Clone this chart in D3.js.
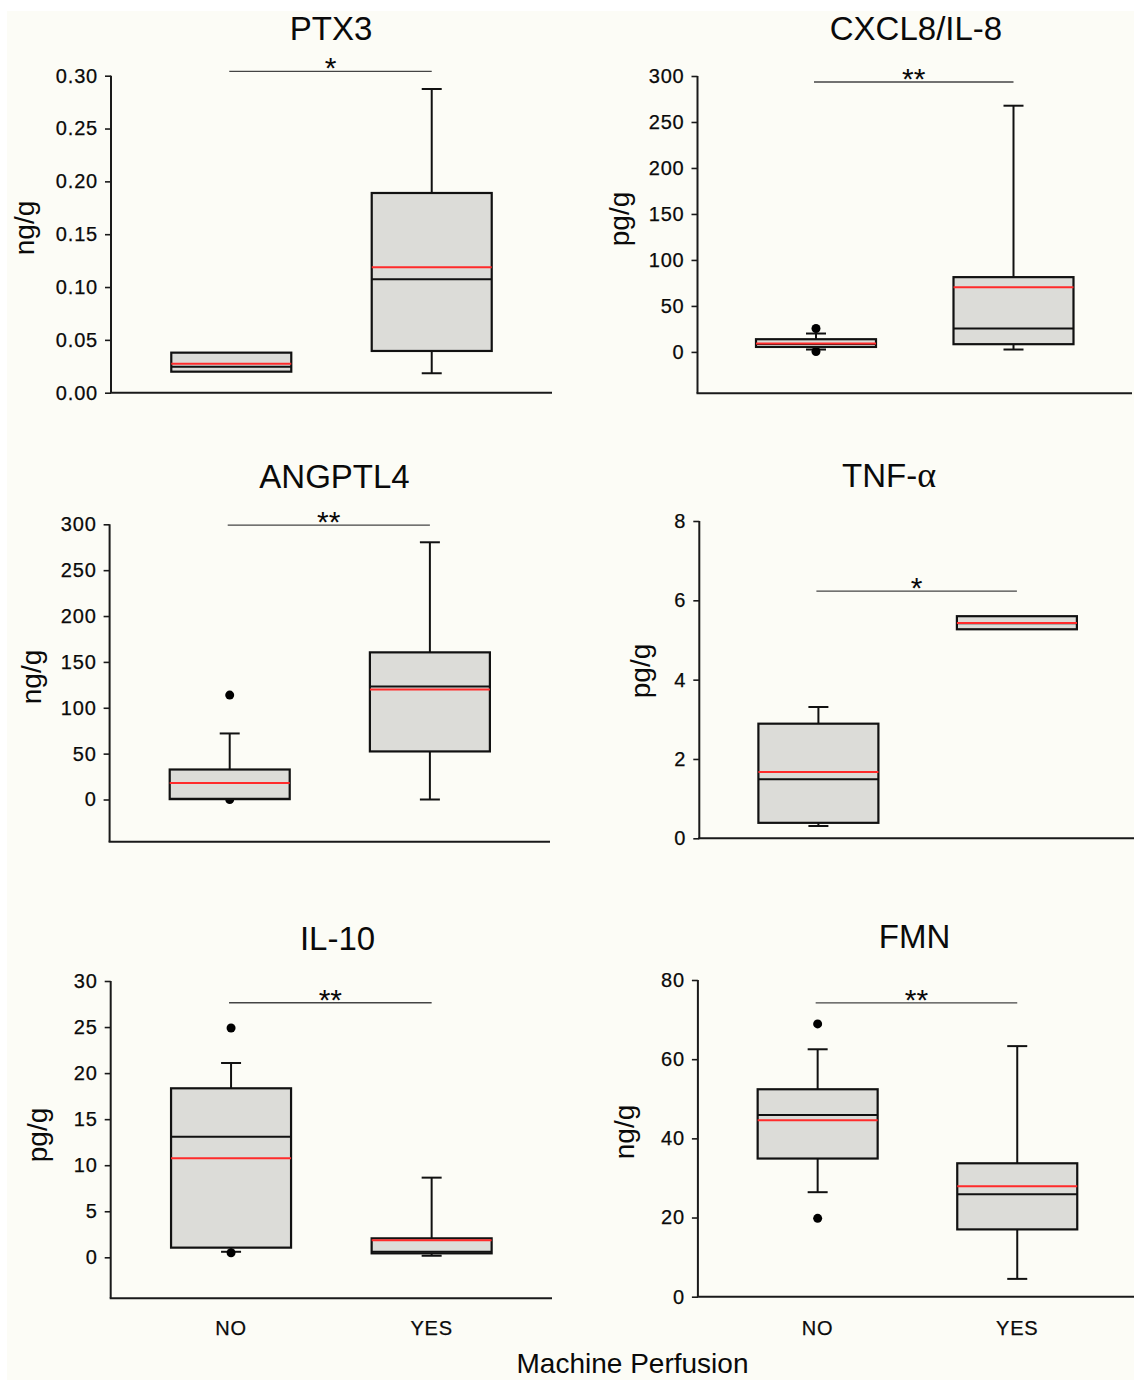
<!DOCTYPE html>
<html><head><meta charset="utf-8">
<script src="https://cdn.jsdelivr.net/npm/d3@7"></script>
<style>
html,body{margin:0;padding:0;background:#ffffff;}
svg{display:block;font-family:"Liberation Sans", Arial, Helvetica, sans-serif;}
</style>
</head><body>
<svg id="chart" width="1134" height="1380"></svg>
<script>
// ---------------- DATA ----------------
const categories = ["NO", "YES"];
const titles = ["PTX3", "CXCL8/IL-8", "ANGPTL4", "TNF-α", "IL-10", "FMN"];
const units = ["ng/g", "pg/g", "ng/g", "pg/g", "pg/g", "ng/g"];
const significance = ["*", "**", "**", "*", "**", "**"];
const sigLevel = [0.304, 293.5, 299.2, 6.23, 27.64, 74.2];
const xAxisTitle = "Machine Perfusion";

// y domains and tick labels
const ptx3Domain = [0, 0.30];
const cxcl8Domain = [-45, 300];
const angptl4Domain = [-46, 300];
const tnfDomain = [0, 8];
const il10Domain = [-4.45, 30];
const fmnDomain = [0, 80];

const ptx3Ticks = [0, 0.05, 0.10, 0.15, 0.20, 0.25, 0.30];
const cxcl8Ticks = [0, 50, 100, 150, 200, 250, 300];
const angptl4Ticks = [0, 50, 100, 150, 200, 250, 300];
const tnfTicks = [0, 2, 4, 6, 8];
const il10Ticks = [0, 5, 10, 15, 20, 25, 30];
const fmnTicks = [0, 20, 40, 60, 80];

// box statistics per group: [lowerWhisker, q1, median, q3, upperWhisker, mean]
const ptx3Box = [[0.0199, 0.0199, 0.0246, 0.0379, 0.0379, 0.0274],
                 [0.0184, 0.0395, 0.1073, 0.189, 0.2874, 0.1187]];
const cxcl8Box = [[2.6, 5.4, 8.5, 13.8, 20.0, 9.1],
                  [2.6, 8.4, 25.4, 81.3, 267.7, 70.4]];
const angptl4Box = [[0.4, 0.4, 0.8, 32.7, 72, 18.1],
                    [0, 52.4, 123.3, 160.4, 280.4, 120]];
const tnfBox = [[0.31, 0.39, 1.49, 2.89, 3.31, 1.67],
                [5.27, 5.27, 5.42, 5.6, 5.6, 5.43]];
const il10Box = [[0.6, 1.05, 13.1, 18.35, 21.1, 10.75],
                 [0.17, 0.43, 0.6, 2.06, 8.65, 1.85]];
const fmnBox = [[26.4, 34.9, 45.9, 52.4, 62.5, 44.6],
                [4.5, 17.0, 25.9, 33.7, 63.3, 27.9]];

// outliers per group
const ptx3Outliers = [[], []];
const cxcl8Outliers = [[25.5, 0.5], []];
const angptl4Outliers = [[113.8, 0], []];
const tnfOutliers = [[], []];
const il10Outliers = [[24.9, 0.5], []];
const fmnOutliers = [[68.9, 19.8], []];

// ---------------- LAYOUT ----------------
const panels = [
  {domain: ptx3Domain, ticks: ptx3Ticks, box: ptx3Box, out: ptx3Outliers, fmt: ".2f",
   left: 111, right: 552, top: 75.7, bottom: 392.7, tx: 331, ty: 40, ux: 27, uy: 228},
  {domain: cxcl8Domain, ticks: cxcl8Ticks, box: cxcl8Box, out: cxcl8Outliers, fmt: "d",
   left: 697.5, right: 1132, top: 76, bottom: 393.3, tx: 916, ty: 40, ux: 622, uy: 219},
  {domain: angptl4Domain, ticks: angptl4Ticks, box: angptl4Box, out: angptl4Outliers, fmt: "d",
   left: 109.6, right: 550, top: 524.3, bottom: 841.7, tx: 334.5, ty: 488, ux: 34, uy: 677},
  {domain: tnfDomain, ticks: tnfTicks, box: tnfBox, out: tnfOutliers, fmt: "d",
   left: 699.3, right: 1136, top: 521, bottom: 838.3, tx: 889, ty: 487, ux: 643, uy: 671},
  {domain: il10Domain, ticks: il10Ticks, box: il10Box, out: il10Outliers, fmt: "d",
   left: 110.7, right: 552, top: 981, bottom: 1298.3, tx: 337.5, ty: 950, ux: 40, uy: 1135},
  {domain: fmnDomain, ticks: fmnTicks, box: fmnBox, out: fmnOutliers, fmt: "d",
   left: 697.9, right: 1137, top: 980, bottom: 1296.7, tx: 914.6, ty: 948, ux: 627, uy: 1132}
];

const BOX_W = 120, CAP_W = 20;
const BG = "#fcfcf6", FILL = "#dcdcd8", RED = "#ff2b2b";
const INK = "#0a0a0a";

const svg = d3.select("#chart");
svg.append("rect").attr("x", 7).attr("y", 11).attr("width", 1134 - 7).attr("height", 1380 - 11).attr("fill", BG);

panels.forEach((p, i) => {
  const g = svg.append("g");
  const x = d3.scalePoint().domain(categories).range([p.left, p.right]).padding(0.6);
  const y = d3.scaleLinear().domain(p.domain).range([p.bottom, p.top]);

  // y axis
  const yAxis = d3.axisLeft(y).tickValues(p.ticks).tickFormat(d3.format(p.fmt))
    .tickSize(6).tickPadding(7).tickSizeOuter(0);
  const ya = g.append("g").attr("transform", `translate(${p.left},0)`).call(yAxis);
  ya.select(".domain").remove();
  ya.selectAll(".tick line").attr("stroke", "#1a1a1a").attr("stroke-width", 1.6);
  ya.selectAll(".tick text").attr("font-size", 20).attr("fill", INK)
    .attr("stroke", INK).attr("stroke-width", 0.25)
    .attr("letter-spacing", "0.8px").attr("font-family", "Liberation Sans, Arial, sans-serif");
  g.append("line").attr("x1", p.left).attr("x2", p.left)
    .attr("y1", y(p.domain[1])).attr("y2", p.bottom)
    .attr("stroke", "#1a1a1a").attr("stroke-width", 2);
  // x axis
  g.append("line").attr("x1", p.left - 1).attr("x2", p.right)
    .attr("y1", p.bottom).attr("y2", p.bottom)
    .attr("stroke", "#1a1a1a").attr("stroke-width", 2);

  // title (alpha drawn in a serif face like the original)
  const t = g.append("text").attr("x", p.tx).attr("y", p.ty).attr("text-anchor", "middle")
    .attr("font-size", 33).attr("fill", INK);
  const title = titles[i];
  if (title.includes("α")) {
    const parts = title.split("α");
    t.append("tspan").text(parts[0]);
    t.append("tspan").attr("font-family", "Liberation Serif, Times New Roman, serif")
      .attr("font-size", 36).text("α");
  } else {
    t.text(title);
  }
  // unit label
  g.append("text").attr("transform", `translate(${p.ux},${p.uy}) rotate(-90)`)
    .attr("text-anchor", "middle").attr("dy", "0.25em")
    .attr("font-size", 28).attr("fill", INK).text(units[i]);

  // significance bar
  const sy = y(sigLevel[i]);
  const x0 = x(categories[0]) - 2, x1 = x(categories[1]);
  g.append("line").attr("x1", x0).attr("x2", x1).attr("y1", sy).attr("y2", sy)
    .attr("stroke", "#444").attr("stroke-width", 1.3);
  g.append("text").attr("x", (x0 + x1) / 2).attr("y", sy + 7)
    .attr("text-anchor", "middle").attr("font-size", 30).attr("fill", INK)
    .text(significance[i]);

  categories.forEach((c, j) => {
    const [lw, q1, med, q3, hw, mean] = p.box[j];
    const xc = x(c);
    // whiskers
    if (hw > q3) {
      g.append("line").attr("x1", xc).attr("x2", xc).attr("y1", y(q3)).attr("y2", y(hw))
        .attr("stroke", "#111").attr("stroke-width", 2);
      g.append("line").attr("x1", xc - CAP_W / 2).attr("x2", xc + CAP_W / 2)
        .attr("y1", y(hw)).attr("y2", y(hw)).attr("stroke", "#111").attr("stroke-width", 2);
    }
    if (lw < q1) {
      g.append("line").attr("x1", xc).attr("x2", xc).attr("y1", y(q1)).attr("y2", y(lw))
        .attr("stroke", "#111").attr("stroke-width", 2);
      g.append("line").attr("x1", xc - CAP_W / 2).attr("x2", xc + CAP_W / 2)
        .attr("y1", y(lw)).attr("y2", y(lw)).attr("stroke", "#111").attr("stroke-width", 2);
    }
    // outliers
    g.selectAll(null).data(p.out[j]).enter().append("circle")
      .attr("cx", xc).attr("cy", d => y(d)).attr("r", 4.5).attr("fill", "#000");
    // box
    g.append("rect").attr("x", xc - BOX_W / 2).attr("width", BOX_W)
      .attr("y", y(q3)).attr("height", Math.max(0, y(q1) - y(q3)))
      .attr("fill", FILL).attr("stroke", "#111").attr("stroke-width", 2.2);
    // median
    g.append("line").attr("x1", xc - BOX_W / 2).attr("x2", xc + BOX_W / 2)
      .attr("y1", y(med)).attr("y2", y(med)).attr("stroke", "#111").attr("stroke-width", 2);
    // mean
    g.append("line").attr("x1", xc - BOX_W / 2).attr("x2", xc + BOX_W / 2)
      .attr("y1", y(mean)).attr("y2", y(mean)).attr("stroke", RED).attr("stroke-width", 2);
  });

  // category labels only on bottom row
  if (i >= 4) {
    g.selectAll(null).data(categories).enter().append("text")
      .attr("x", d => x(d)).attr("y", 1335).attr("text-anchor", "middle")
      .attr("font-size", 20).attr("letter-spacing", "0.8px")
      .attr("stroke", INK).attr("stroke-width", 0.25)
      .attr("fill", INK).text(d => d);
  }
});

svg.append("text").attr("x", 632.5).attr("y", 1373).attr("text-anchor", "middle")
  .attr("font-size", 28).attr("fill", INK).text(xAxisTitle);
</script>
</body></html>
